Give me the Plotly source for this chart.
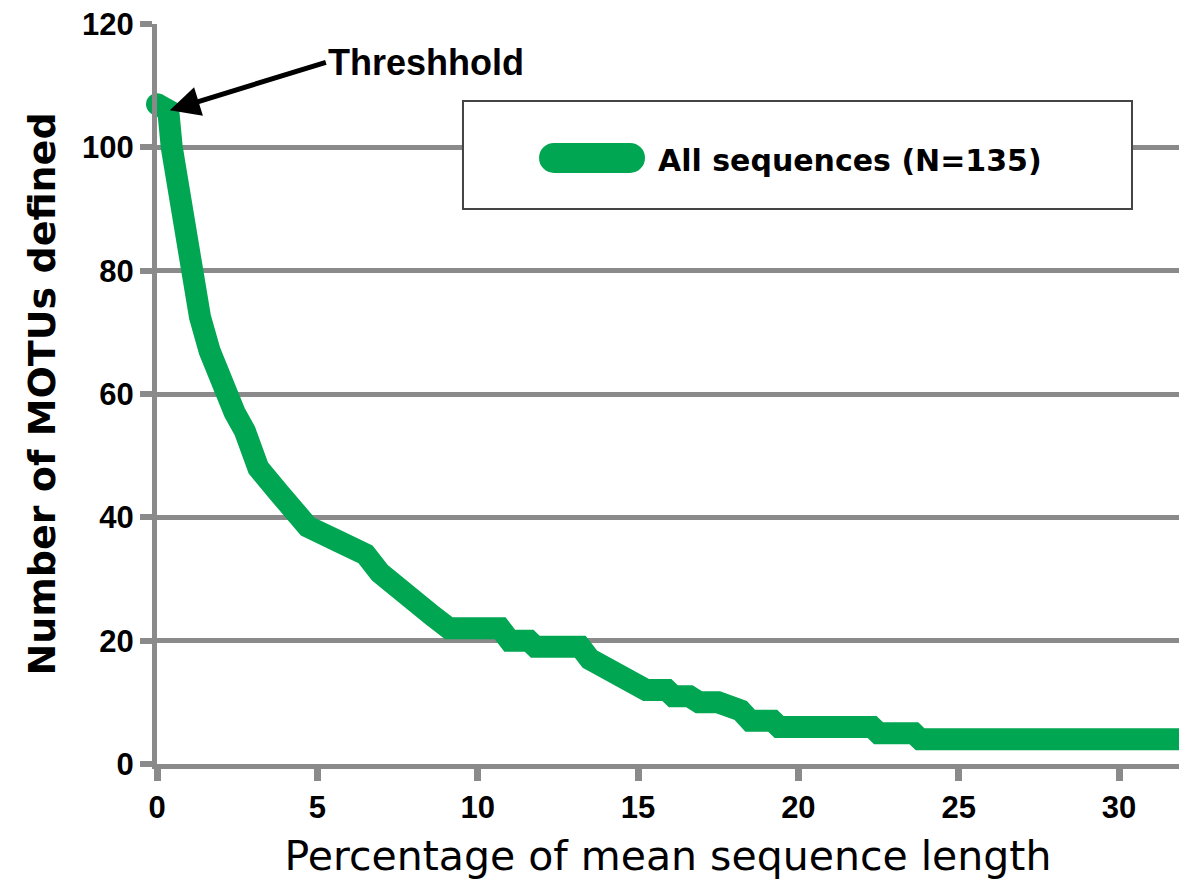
import plotly.graph_objects as go

# ---- data ----
x_pct = [0.0, 0.35, 0.46, 0.75, 1.05, 1.34, 1.64, 2.1, 2.42, 2.74, 3.16, 3.8, 4.45, 4.7,
         5.7, 6.5, 6.95, 7.35, 7.8, 8.2, 8.6, 9.1, 10.7, 11.0, 11.6, 11.8, 13.2, 13.5,
         14.1, 14.7, 15.25, 15.9, 16.1, 16.6, 16.9, 17.5, 18.2, 18.5, 19.2, 19.4, 22.3,
         22.5, 23.6, 23.8, 31.9]
motus = [107, 106, 100, 89, 80, 72.5, 67, 60, 57, 54, 48, 44, 40, 38.5,
         36, 34, 31, 29.5, 27.5, 26.5, 24, 22, 22, 20, 20, 19, 19, 17,
         15, 13, 12, 12, 11, 11, 10, 10, 8.7, 7, 7, 6, 6,
         5, 5, 4, 4]
x_ticks = [0, 5, 10, 15, 20, 25, 30]
y_ticks = [0, 20, 40, 60, 80, 100, 120]
series_name = "All sequences (N=135)"
x_title = "Percentage of mean sequence length"
y_title = "Number of MOTUs defined"
note = "Threshhold"

GREEN = "#00A651"
GRID = "#8a8a8a"

fig = go.Figure()
fig.add_trace(go.Scatter(x=x_pct, y=motus, mode="lines", name=series_name,
                         line=dict(color=GREEN, width=22), showlegend=False))
fig.add_trace(go.Scatter(x=[x_pct[0]], y=[motus[0]], mode="markers", name=series_name,
                         marker=dict(color=GREEN, size=22), cliponaxis=False,
                         showlegend=False, hoverinfo="skip"))

tick_font = dict(family="Liberation Sans", size=31, color="black", weight="bold")

fig.update_xaxes(range=[0, 31.87], tickvals=x_ticks, ticktext=[str(v) for v in x_ticks],
                 showgrid=False, zeroline=False, showline=True, linecolor=GRID, linewidth=5,
                 ticks="outside", ticklen=12, tickwidth=7, tickcolor=GRID,
                 tickfont=tick_font,
                 title=dict(text=x_title, standoff=21,
                            font=dict(family="DejaVu Sans", size=41, color="black")))
fig.update_yaxes(range=[0, 120], tickvals=y_ticks, ticktext=[str(v) for v in y_ticks],
                 showgrid=True, gridcolor=GRID, gridwidth=5, zeroline=False,
                 showline=True, linecolor=GRID, linewidth=5,
                 ticks="outside", ticklen=12, tickwidth=6, tickcolor=GRID,
                 tickfont=tick_font,
                 title=dict(text=y_title, standoff=16,
                            font=dict(family="DejaVu Sans", size=38, color="black", weight="bold")))

# legend box drawn with shapes + text
shapes = [
    dict(type="rect", xref="paper", yref="paper", x0=0.2994, x1=0.954, y0=0.75, y1=0.896,
         line=dict(color="#444444", width=2), fillcolor="white", layer="above"),
    dict(type="line", xref="paper", yref="paper", x0=0.3885, x1=0.4628, y0=0.819, y1=0.819,
         line=dict(color=GREEN, width=30), layer="above"),
]
for cx in (0.3885, 0.4628):
    shapes.append(dict(type="circle", xref="paper", yref="paper", xsizemode="pixel",
                       ysizemode="pixel", xanchor=cx, yanchor=0.819,
                       x0=-15, x1=15, y0=-15, y1=15, fillcolor=GREEN,
                       line=dict(width=0), layer="above"))

annotations = [
    dict(xref="paper", yref="paper", x=0.4883, y=0.8162, text=series_name, showarrow=False,
         xanchor="left", yanchor="middle",
         font=dict(family="DejaVu Sans", size=30, color="black", weight="bold")),
    dict(x=0.4, y=106, xref="x", yref="y", text=note, showarrow=True,
         ax=156, ay=-48, xanchor="left", yanchor="middle",
         arrowhead=2, arrowsize=1.2, arrowwidth=5, arrowcolor="black",
         font=dict(family="Liberation Sans", size=36, color="black", weight="bold")),
]

fig.update_layout(width=1179, height=880, margin=dict(l=157, r=0, t=24, b=116),
                  plot_bgcolor="white", paper_bgcolor="white",
                  shapes=shapes, annotations=annotations, showlegend=False)

fig.write_html("out.html", config={"displayModeBar": False},
               post_script="document.body.style.margin='0';"
                           "document.body.style.padding='0';"
                           "document.body.style.overflow='hidden';"
                           "document.documentElement.style.overflow='hidden';")
